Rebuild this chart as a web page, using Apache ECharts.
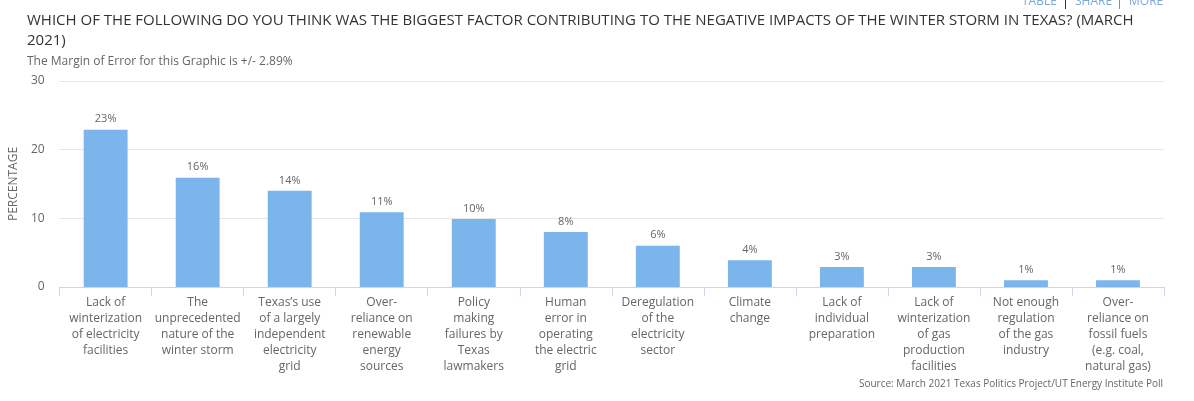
<!DOCTYPE html>
<html>
<head>
<meta charset="utf-8">
<script src="https://cdn.jsdelivr.net/npm/echarts@6/dist/echarts.min.js"></script>
<style>
html,body{margin:0;padding:0;background:#fff;}
#chart{width:1194px;height:401px;}
</style>
</head>
<body>
<div id="chart"></div>
<script>
var categories = [
  "Lack of\nwinterization\nof electricity\nfacilities",
  "The\nunprecedented\nnature of the\nwinter storm",
  "Texas’s use\nof a largely\nindependent\nelectricity\ngrid",
  "Over-\nreliance on\nrenewable\nenergy\nsources",
  "Policy\nmaking\nfailures by\nTexas\nlawmakers",
  "Human\nerror in\noperating\nthe electric\ngrid",
  "Deregulation\nof the\nelectricity\nsector",
  "Climate\nchange",
  "Lack of\nindividual\npreparation",
  "Lack of\nwinterization\nof gas\nproduction\nfacilities",
  "Not enough\nregulation\nof the gas\nindustry",
  "Over-\nreliance on\nfossil fuels\n(e.g. coal,\nnatural gas)"
];
var percentages = [22.9, 15.9, 14.0, 10.9, 9.9, 8.0, 6.0, 3.9, 2.9, 2.9, 1.0, 1.0];
var yTicks = [0, 10, 20, 30];

var titleText = "WHICH OF THE FOLLOWING DO YOU THINK WAS THE BIGGEST FACTOR CONTRIBUTING TO THE NEGATIVE IMPACTS OF THE WINTER STORM IN TEXAS? (MARCH\n2021)";
var subtitleText = "The Margin of Error for this Graphic is +/- 2.89%";
var sourceText = "Source: March 2021 Texas Politics Project/UT Energy Institute Poll";

var FONT = "'Open Sans', 'Noto Sans', sans-serif";
var chart = echarts.init(document.getElementById('chart'), null, {renderer: 'canvas'});
chart.setOption({
  animation: false,
  backgroundColor: '#ffffff',
  textStyle: {fontFamily: FONT},
  title: [{
    text: titleText,
    left: 22, top: 6,
    textStyle: {fontFamily: FONT, fontSize: 15, fontWeight: 'normal', color: '#333333', lineHeight: 20}
  }, {
    text: subtitleText,
    left: 22, top: 51,
    textStyle: {fontFamily: FONT, fontSize: 12, fontWeight: 'normal', color: '#666666'}
  }],
  grid: {left: 58, right: 30, top: 81, bottom: 114, containLabel: false},
  xAxis: {
    type: 'category',
    data: categories,
    axisLine: {lineStyle: {color: '#ccd6eb', width: 1}},
    axisTick: {show: true, length: 9, lineStyle: {color: '#ccd6eb'}, alignWithLabel: false},
    axisLabel: {
      interval: 0, margin: 8,
      fontFamily: FONT, fontSize: 12, color: '#666666', lineHeight: 16, align: 'center'
    }
  },
  yAxis: {
    type: 'value',
    min: 0, max: 30, interval: 10,
    name: 'PERCENTAGE',
    nameLocation: 'middle',
    nameRotate: 90,
    nameGap: 35,
    nameTextStyle: {fontFamily: FONT, fontSize: 12, color: '#666666'},
    axisLine: {show: false},
    axisTick: {show: false},
    axisLabel: {
      margin: 15, fontFamily: FONT, fontSize: 12, color: '#666666',
      formatter: function (v) { return yTicks.indexOf(v) >= 0 ? String(v) : ''; }
    },
    splitLine: {lineStyle: {color: '#e6e6e6', width: 1}}
  },
  series: [{
    type: 'bar',
    data: percentages,
    barWidth: '47.7%',
    itemStyle: {color: '#7cb5ec'},
    label: {
      show: true, position: 'top', distance: 5,
      fontFamily: FONT, fontSize: 11, color: '#666666',
      formatter: function (p) { return Math.round(p.value) + '%'; }
    }
  }],
  graphic: [
    {type: 'text', left: 1022, top: -4, style: {text: 'TABLE', font: '12px ' + FONT, fill: '#7aa7d9'}},
    {type: 'rect', shape: {x: 1065, y: 0, width: 1, height: 9}, style: {fill: '#333333'}},
    {type: 'text', left: 1075, top: -4, style: {text: 'SHARE', font: '12px ' + FONT, fill: '#7aa7d9'}},
    {type: 'rect', shape: {x: 1119, y: 0, width: 1, height: 9}, style: {fill: '#5b9bd5'}},
    {type: 'text', left: 1129, top: -4, style: {text: 'MORE', font: '12px ' + FONT, fill: '#7aa7d9'}},
    {type: 'text', right: 31, top: 379, style: {text: sourceText, font: '10px ' + FONT, fill: '#666666'}}
  ]
});
</script>
</body>
</html>
